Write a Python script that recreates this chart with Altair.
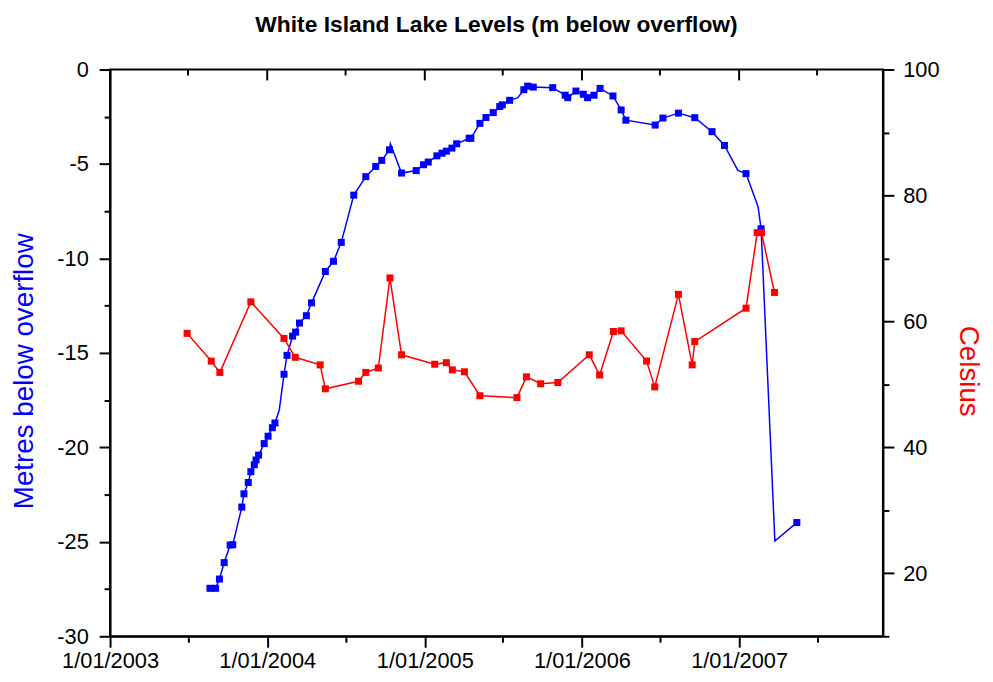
import altair as alt
import pandas as pd

# ---- data ----
blue_dates = [
    "2003-08-21", "2003-09-03", "2003-09-12", "2003-09-23", "2003-10-07", "2003-10-13",
    "2003-11-03", "2003-11-08", "2003-11-18", "2003-11-24", "2003-12-02", "2003-12-06",
    "2003-12-12", "2003-12-25", "2004-01-03", "2004-01-13", "2004-01-19", "2004-02-09",
    "2004-02-16", "2004-02-29", "2004-03-07", "2004-03-16", "2004-04-01", "2004-04-13",
    "2004-05-15", "2004-06-03", "2004-06-21", "2004-07-20", "2004-08-17", "2004-09-09",
    "2004-09-23", "2004-10-11", "2004-11-08", "2004-12-12", "2004-12-29", "2005-01-09",
    "2005-01-29", "2005-02-10", "2005-02-20", "2005-03-05", "2005-03-16", "2005-04-14",
    "2005-04-18", "2005-05-09", "2005-05-23", "2005-06-09", "2005-06-24", "2005-06-30",
    "2005-07-17", "2005-08-19", "2005-08-28", "2005-09-10", "2005-10-25", "2005-11-23",
    "2005-11-29", "2005-12-18", "2006-01-04", "2006-01-14", "2006-01-29", "2006-02-12",
    "2006-03-14", "2006-04-02", "2006-04-13", "2006-06-20", "2006-07-08", "2006-08-13",
    "2006-09-20", "2006-10-30", "2006-11-28", "2007-01-17", "2007-02-21", "2007-05-15",
]
blue_levels = [
    -27.46, -27.46, -26.97, -26.10, -25.17, -25.15,
    -23.16, -22.46, -21.86, -21.29, -20.92, -20.67,
    -20.41, -19.80, -19.41, -18.96, -18.71, -16.13,
    -15.13, -14.11, -13.90, -13.42, -13.03, -12.35,
    -10.69, -10.15, -9.15, -6.65, -5.67, -5.13,
    -4.81, -4.25, -5.48, -5.35, -5.04, -4.90,
    -4.57, -4.43, -4.32, -4.16, -3.93, -3.64,
    -3.64, -2.85, -2.54, -2.28, -1.96, -1.87,
    -1.63, -1.07, -0.88, -0.93, -0.96, -1.36,
    -1.49, -1.14, -1.31, -1.49, -1.36, -1.00,
    -1.40, -2.14, -2.68, -2.94, -2.57, -2.31,
    -2.55, -3.29, -4.02, -5.51, -8.43, -23.98,
]
# points on the blue line that carry no marker
blue_extra_dates = ["2004-01-29", "2004-10-13", "2005-08-05", "2006-12-29", "2007-02-14", "2007-03-25"]
blue_extra_levels = [-18.02, -3.93, -1.49, -5.34, -7.26, -24.96]

red_dates = [
    "2003-06-29", "2003-08-24", "2003-09-13", "2003-11-24", "2004-02-09", "2004-03-06",
    "2004-05-03", "2004-05-15", "2004-07-31", "2004-08-17", "2004-09-15", "2004-10-12",
    "2004-11-08", "2005-01-24", "2005-02-20", "2005-03-06", "2005-04-03", "2005-05-09",
    "2005-08-03", "2005-08-25", "2005-09-27", "2005-11-06", "2006-01-18", "2006-02-11",
    "2006-03-15", "2006-04-02", "2006-05-31", "2006-06-19", "2006-08-13", "2006-09-14",
    "2006-09-20", "2007-01-17", "2007-02-12", "2007-02-22", "2007-03-24",
]
red_temps = [
    58.1, 53.7, 51.9, 63.1, 57.3, 54.3,
    53.1, 49.3, 50.5, 51.9, 52.6, 66.9,
    54.7, 53.2, 53.45, 52.3, 52.0, 48.2,
    47.9, 51.2, 50.1, 50.3, 54.7, 51.5,
    58.4, 58.5, 53.7, 49.6, 64.3, 53.1,
    56.8, 62.1, 74.1, 74.1, 64.6,
]

year_ticks = ["2003-01-01", "2004-01-01", "2005-01-01", "2006-01-01", "2007-01-01"]
half_year_ticks = ["2003-07-01", "2004-07-01", "2005-07-01", "2006-07-01", "2007-07-01"]
left_ticks = [0, -2.5, -5, -7.5, -10, -12.5, -15, -17.5, -20, -22.5, -25, -27.5, -30]
right_ticks = [10, 20, 30, 40, 50, 60, 70, 80, 90, 100]

# ---- tables ----
blue_pts_df = pd.DataFrame({"date": blue_dates, "level": blue_levels})
blue_line_df = pd.concat(
    [blue_pts_df, pd.DataFrame({"date": blue_extra_dates, "level": blue_extra_levels})]
).sort_values("date")
red_df = pd.DataFrame({"date": red_dates, "temp": red_temps})
year_df = pd.DataFrame({"date": year_ticks})
half_df = pd.DataFrame({"date": half_year_ticks})


def dt(s):
    y, m, d = (int(v) for v in s.split("-"))
    return alt.DateTime(year=y, month=m, date=d, utc=True)


FONT = "Liberation Sans"
BLUE = "#0000FF"
RED = "#FF0000"

all_ticks = sorted(year_ticks + half_year_ticks)
x_axis = alt.Axis(
    values=[dt(s) for s in all_ticks],
    labelExpr="utcmonth(datum.value) == 0 ? utcFormat(datum.value, '%-d/%m/%Y') : ''",
    tickSize={"condition": {"test": "utcmonth(datum.value) == 0", "value": 11}, "value": 6},
    tickWidth=2, tickColor="black", domain=True, domainColor="black", domainWidth=2,
    grid=False,
    labelFont=FONT, labelFontSize=22, labelColor="black", labelPadding=3,
    labelFlush=False, labelOverlap=False, title=None,
)
x_scale = alt.Scale(type="utc", domain=[dt("2003-01-01"), dt("2007-12-01")], nice=False)


def xenc():
    return alt.X("date:T", scale=x_scale, axis=x_axis, title=None)


left_axis = alt.Axis(
    orient="left", values=left_ticks,
    labelExpr="datum.value % 5 == 0 ? toString(datum.value) : ''",
    tickSize={"condition": {"test": "datum.value % 5 == 0", "value": 11}, "value": 6},
    tickWidth=2, tickColor="black", domain=True, domainColor="black", domainWidth=2,
    grid=False,
    labelFont=FONT, labelFontSize=22, labelColor="black", labelPadding=11,
    labelOverlap=False, labelFlush=False,
    title="Metres below overflow", titleFont=FONT, titleFontSize=28,
    titleFontWeight="normal", titleColor=BLUE, titleY=304, titlePadding=18,
)
right_axis = alt.Axis(
    orient="right", values=right_ticks,
    labelExpr="datum.value % 20 == 0 ? toString(datum.value) : ''",
    tickSize={"condition": {"test": "datum.value % 20 == 0", "value": 11}, "value": 6},
    tickWidth=2, tickColor="black", domain=True, domainColor="black", domainWidth=2,
    grid=False,
    labelFont=FONT, labelFontSize=22, labelColor="black", labelPadding=9,
    labelOverlap=False, labelFlush=False,
    title="Celsius", titleFont=FONT, titleFontSize=28, titleAngle=90,
    titleFontWeight="normal", titleColor=RED, titleY=304, titlePadding=15,
)

y_blue = alt.Y("level:Q", scale=alt.Scale(domain=[-30, 0], nice=False, zero=False), axis=left_axis)
y_red = alt.Y("temp:Q", scale=alt.Scale(domain=[10, 100], nice=False, zero=False), axis=right_axis)

blue_line = alt.Chart(blue_line_df).mark_line(color=BLUE, strokeWidth=1.5).encode(x=xenc(), y=y_blue)
blue_pts = alt.Chart(blue_pts_df).mark_square(color=BLUE, size=50, opacity=1).encode(x=xenc(), y=y_blue)
top_major = alt.Chart(year_df).mark_rule(color="black", strokeWidth=2).encode(
    x=xenc(), y=alt.value(0), y2=alt.value(11))
top_minor = alt.Chart(half_df).mark_rule(color="black", strokeWidth=2).encode(
    x=xenc(), y=alt.value(0), y2=alt.value(6))

red_line = alt.Chart(red_df).mark_line(color=RED, strokeWidth=1.5).encode(x=xenc(), y=y_red)
red_pts = alt.Chart(red_df).mark_square(color=RED, size=50, opacity=1).encode(x=xenc(), y=y_red)

blue_layer = alt.layer(blue_line, blue_pts, top_major, top_minor)
red_layer = alt.layer(red_line, red_pts)

chart = alt.layer(blue_layer, red_layer).resolve_scale(y="independent").properties(
    width=780, height=572,
    padding={"left": 3, "top": 3, "right": 3, "bottom": 3},
    background="white",
    title=alt.TitleParams(
        "White Island Lake Levels (m below overflow)", font=FONT, fontSize=23,
        fontWeight="bold", color="black", offset=22, anchor="middle",
    ),
).configure_view(stroke="black", strokeWidth=2)

chart.save("out.html", embed_options={"renderer": "svg", "actions": False})
